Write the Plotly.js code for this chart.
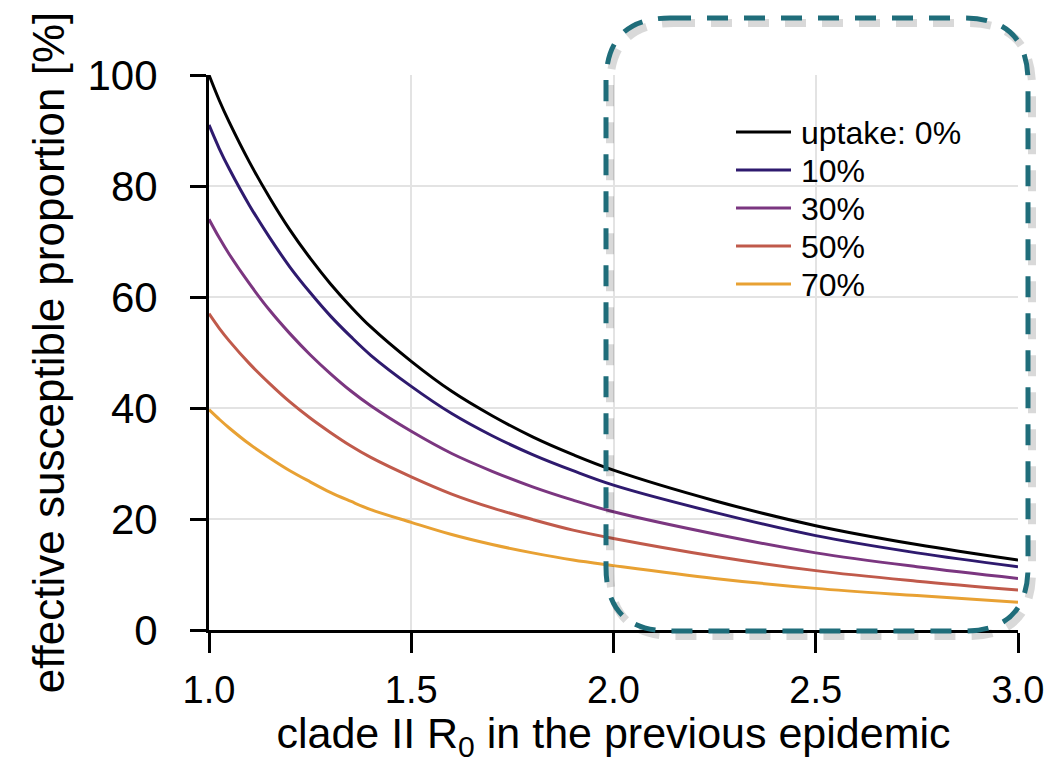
<!DOCTYPE html>
<html>
<head>
<meta charset="utf-8">
<script src="https://cdn.plot.ly/plotly-3.0.1.min.js"></script>
<style>html,body{margin:0;padding:0;background:#fff;}#chart{width:1051px;height:763px;}</style>
</head>
<body>
<div id="chart"></div>
<script>
// R0 of previous epidemic (x) and effective susceptible proportion [%]
const r0 = [1.0, 1.025, 1.05, 1.1, 1.15, 1.2, 1.25, 1.3, 1.35, 1.4, 1.5, 1.6, 1.7, 1.8, 1.9, 2.0, 2.25, 2.5, 2.75, 3.0];
const uptake0  = [100, 95.5, 91.5, 84.3, 77.9, 72.1, 67, 62.4, 58.3, 54.6, 48.4, 43, 38.6, 34.8, 31.6, 28.8, 23.3, 18.8, 15.4, 12.6];
const uptake10 = [91, 86.8, 83.1, 76.5, 70.7, 65.4, 60.8, 56.6, 52.9, 49.5, 43.9, 39.0, 35.0, 31.6, 28.7, 26.1, 21.2, 17.0, 13.9, 11.4];
const uptake30 = [74, 70.7, 67.7, 62.4, 57.6, 53.4, 49.6, 46.2, 43.1, 40.4, 35.8, 31.8, 28.6, 25.8, 23.4, 21.3, 17.3, 13.9, 11.4, 9.3];
const uptake50 = [57, 54.4, 52.1, 48.0, 44.4, 41.1, 38.2, 35.6, 33.2, 31.1, 27.6, 24.5, 22.0, 19.9, 18.0, 16.5, 13.3, 10.7, 8.8, 7.2];
const uptake70 = [39.7, 38.0, 36.4, 33.5, 31.0, 28.7, 26.7, 24.8, 23.2, 21.7, 19.4, 17.2, 15.4, 13.9, 12.6, 11.6, 9.3, 7.5, 6.2, 5.0];
const seriesNames = ["uptake: 0%", "10%", "30%", "50%", "70%"];
const seriesColors = ["#000000", "#2e1a6e", "#7b3680", "#c05a4b", "#e8a133"];
const seriesValues = [uptake0, uptake10, uptake30, uptake50, uptake70];
const xTicks = [1.0, 1.5, 2.0, 2.5, 3.0];
const xTickText = ["1.0", "1.5", "2.0", "2.5", "3.0"];
const yTicks = [0, 20, 40, 60, 80, 100];

const traces = seriesValues.map((v, i) => ({
  x: r0, y: v, type: "scatter", mode: "lines", name: seriesNames[i],
  line: {color: seriesColors[i], width: 3, shape: "spline", smoothing: 1.0}
}));

// plot-area geometry in pixels, used to place layout decorations in paper units
const L = 209, R = 1018, T = 75, B = 630;
const pw = R - L, ph = B - T;
const px = v => (v - L) / pw;
const py = v => (B - v) / ph;

// rounded dashed rectangle (paper coordinates)
function roundRect(x0, y0, x1, y1, rx, ry) {
  return `M ${x0+rx} ${y1} L ${x1-rx} ${y1} Q ${x1} ${y1} ${x1} ${y1-ry} ` +
         `L ${x1} ${y0+ry} Q ${x1} ${y0} ${x1-rx} ${y0} ` +
         `L ${x0+rx} ${y0} Q ${x0} ${y0} ${x0} ${y0+ry} ` +
         `L ${x0} ${y1-ry} Q ${x0} ${y1} ${x0+rx} ${y1} Z`;
}
const bx0 = px(606), bx1 = px(1028), by0 = py(631), by1 = py(18);
const rx = 64/pw, ry = 64/ph;
const sdx = 4/pw, sdy = -5/ph;

// legend drawn as swatches + labels
const legendRows = [132, 170, 208, 246, 284];
const legendShapes = seriesColors.map((c, i) => ({
  type: "line", xref: "paper", yref: "paper",
  x0: px(736), x1: px(791), y0: py(legendRows[i]), y1: py(legendRows[i]),
  line: {color: c, width: 3}
}));
const legendLabels = seriesNames.map((n, i) => ({
  xref: "paper", yref: "paper", x: px(799), y: py(legendRows[i] + 1),
  xanchor: "left", yanchor: "middle", showarrow: false, text: n,
  font: {size: 32, color: "#000"}
}));

const narrow = "Liberation Sans Narrow, Liberation Sans, Arial, sans-serif";

const layout = {
  width: 1051, height: 763,
  margin: {l: L, r: 1051 - R, t: T, b: 763 - B},
  paper_bgcolor: "#ffffff", plot_bgcolor: "#ffffff",
  showlegend: false,
  font: {family: "Liberation Sans, Arial, sans-serif", color: "#000"},
  xaxis: {
    range: [1.0, 3.0], tickvals: xTicks, ticktext: xTickText,
    showgrid: true, gridcolor: "#e3e3e3", gridwidth: 2,
    zeroline: false, showline: true, linecolor: "#000", linewidth: 3,
    ticks: "outside", ticklen: 20, tickwidth: 3, tickcolor: "#000",
    tickfont: {size: 38, family: narrow},
    ticklabelstandoff: 4,
    title: {text: "clade II R<sub>0</sub> in the previous epidemic",
            font: {size: 43, family: narrow}, standoff: 14}
  },
  yaxis: {
    range: [0, 100], tickvals: yTicks,
    showgrid: true, gridcolor: "#e3e3e3", gridwidth: 2,
    zeroline: false, showline: true, linecolor: "#000", linewidth: 3,
    ticks: "outside", ticklen: 16, tickwidth: 3, tickcolor: "#000",
    tickfont: {size: 42}, ticklabelstandoff: 24,
    title: {text: "effective susceptible proportion [%]", font: {size: 44}, standoff: 10}
  },
  annotations: legendLabels,
  shapes: legendShapes.concat([
    {type: "path", xref: "paper", yref: "paper", layer: "above",
     path: roundRect(bx0+sdx, by0+sdy, bx1+sdx, by1+sdy, rx, ry),
     line: {color: "rgba(0,0,0,0.15)", width: 8, dash: "21px,16px"}},
    {type: "path", xref: "paper", yref: "paper", layer: "above",
     path: roundRect(bx0, by0, bx1, by1, rx, ry),
     line: {color: "#1f6d7a", width: 5, dash: "21px,16px"}}
  ])
};

Plotly.newPlot("chart", traces, layout, {displayModeBar: false, staticPlot: true});
</script>
</body>
</html>
